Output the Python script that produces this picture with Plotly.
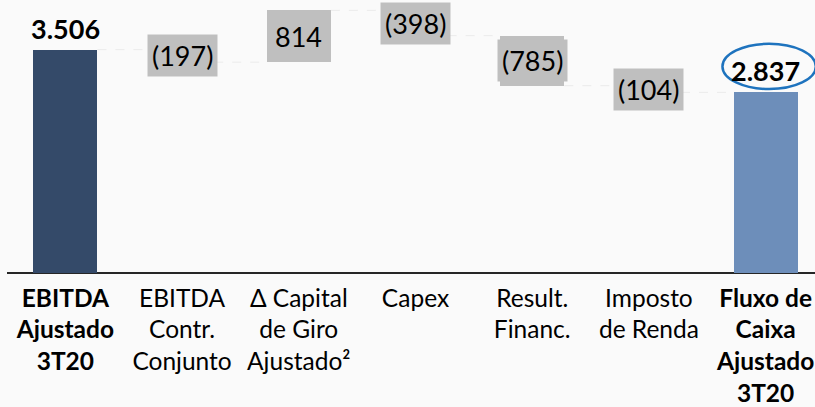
import plotly.graph_objects as go

# ---- data ----
categories = [
    "<b>EBITDA</b><br><b>Ajustado</b><br><b>3T20</b>",
    "EBITDA<br>Contr.<br>Conjunto",
    "Δ Capital<br>de Giro<br>Ajustado²",
    "Capex",
    "Result.<br>Financ.",
    "Imposto<br>de Renda",
    "<b>Fluxo de</b><br><b>Caixa</b><br><b>Ajustado</b><br><b>3T20</b>",
]
values = [3506, -197, 814, -398, -785, -104, 2837]
measures = ["absolute", "relative", "relative", "relative", "relative", "relative", "total"]

# ---- styles ----
COL_START = "#344A69"
COL_END = "#6D8EBA"
COL_STEP = "#BFBFBF"
FONT = "Lato"


def fmt(v):
    s = f"{abs(v):,}".replace(",", ".")
    return f"({s})" if v < 0 else s


# compute bases / heights via cumulative sums
bases, heights, colors = [], [], []
running = 0
for v, m in zip(values, measures):
    if m == "absolute":
        bases.append(0); heights.append(v); running = v; colors.append(COL_START)
    elif m == "total":
        bases.append(0); heights.append(v); colors.append(COL_END)
    else:
        lo = min(running, running + v)
        bases.append(lo); heights.append(abs(v)); running += v; colors.append(COL_STEP)

xs = list(range(len(values)))
BW = 0.55

fig = go.Figure()
fig.add_trace(go.Bar(x=xs, y=heights, base=bases, marker=dict(color=colors, line=dict(width=0)),
                     width=BW, hoverinfo="skip", showlegend=False))

# connectors
cx, cy = [], []
lvl = 0
for i, (v, m) in enumerate(zip(values, measures)):
    lvl = v if m in ("absolute", "total") else lvl + v
    if i < len(values) - 1:
        cx += [i + BW / 2, i + 1 - BW / 2, None]
        cy += [lvl, lvl, None]
fig.add_trace(go.Scatter(x=cx, y=cy, mode="lines", line=dict(color="#EBEBEB", width=1, dash="dash"),
                         hoverinfo="skip", showlegend=False))

annotations = []
for i, (v, m) in enumerate(zip(values, measures)):
    if m in ("absolute", "total"):
        annotations.append(dict(x=i, y=v, xref="x", yref="y", text=f"<b>{fmt(v)}</b>", showarrow=False,
                                yanchor="bottom", yshift=3, font=dict(family=FONT, size=27, color="black")))
    else:
        mid = bases[i] + heights[i] / 2
        annotations.append(dict(x=i, y=mid, xref="x", yref="y", text=fmt(v), showarrow=False,
                                yanchor="middle", bgcolor=COL_STEP, borderpad=4,
                                font=dict(family=FONT, size=27, color="black")))

last = len(values) - 1
shapes = [dict(type="circle", xref="x", yref="y", x0=last - 0.37, x1=last + 0.43,
               y0=values[last] + 50, y1=values[last] + 760,
               line=dict(color="#1E73BE", width=2.5))]

fig.update_layout(
    width=815, height=407,
    margin=dict(l=7, r=0, t=0, b=132),
    paper_bgcolor="#FAFAFA", plot_bgcolor="#FAFAFA",
    bargap=0,
    annotations=annotations, shapes=shapes,
    xaxis=dict(range=[-0.5, 6.423], tickmode="array", tickvals=xs, ticktext=categories,
               showgrid=False, zeroline=False, showline=False, ticks="",
               ticklabelstandoff=8,
               tickfont=dict(family=FONT, size=24.5, color="black")),
    yaxis=dict(range=[0, 4285], showgrid=False, zeroline=True, zerolinecolor="#262626",
               zerolinewidth=2, showticklabels=False, showline=False),
)
fig.write_html("out.html", config={"displayModeBar": False},
               post_script="document.body.style.margin='0';document.body.style.padding='0';")
